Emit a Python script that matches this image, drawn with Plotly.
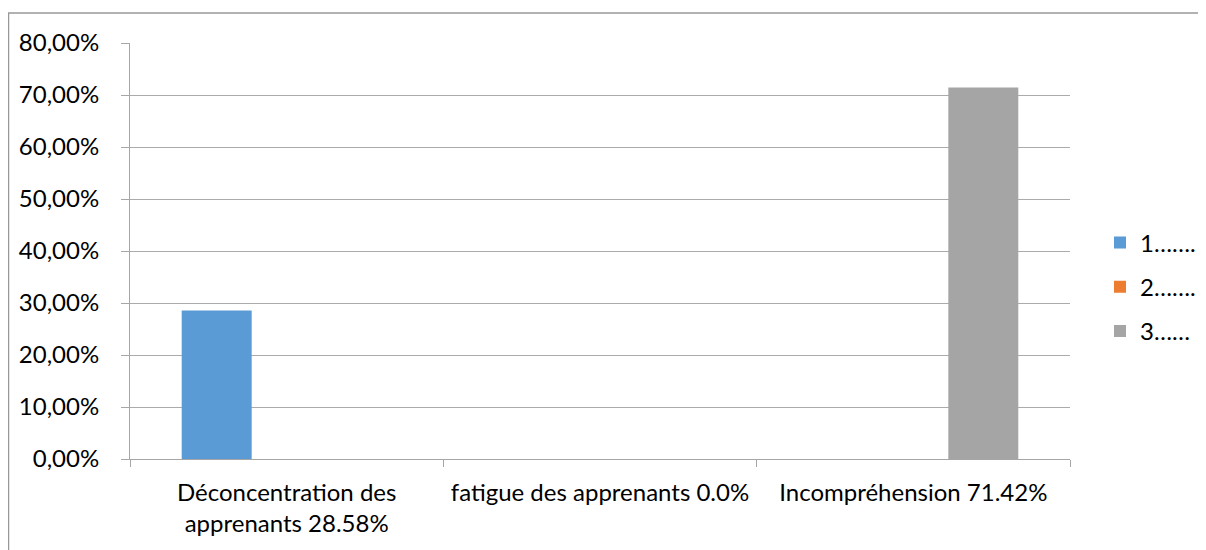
import plotly.graph_objects as go

categories = ["Déconcentration des<br>apprenants 28.58%", "fatigue des apprenants 0.0%", "Incompréhension 71.42%"]
series_names = ["1…….", "2…….", "3……"]
series1 = [0.2858, None, None]
series2 = [None, 0.0, None]
series3 = [None, None, 0.7142]
colors = ["#5b9bd5", "#ed7d31", "#a5a5a5"]
y_ticks = [0, 0.1, 0.2, 0.3, 0.4, 0.5, 0.6, 0.7, 0.8]

FONT = "Lato, Carlito, Calibri, sans-serif"
FS = 24

fig = go.Figure()
for i, (name, vals) in enumerate(zip(series_names, [series1, series2, series3])):
    fig.add_trace(go.Bar(x=categories, y=vals, name=name, marker_color=colors[i],
                         marker_line_width=0, legendgroup=str(i)))

# page has an 8px body margin; figure drawn at (8, 8)
OFF = 8
W, H = 1206 - OFF, 550 - OFF
L, T = 130 - OFF, 43 - OFF
R = W - (1070 - OFF)
B = H - (459 - OFF)
pw, ph = W - L - R, H - T - B

def px_x(p):
    return (p - OFF - L) / pw

def px_y(p):
    return (H - B - (p - OFF)) / ph

fig.update_layout(
    width=W, height=H,
    margin=dict(l=L, r=R, t=T, b=B, autoexpand=False),
    paper_bgcolor="white", plot_bgcolor="white",
    separators=", ",
    barmode="group", bargap=0.33, bargroupgap=0,
    font=dict(family=FONT, size=FS, color="#000000"),
    legend=dict(x=px_x(1100), y=px_y(287), xanchor="left", yanchor="middle",
                font=dict(size=FS), tracegroupgap=10, bgcolor="rgba(0,0,0,0)"),
    showlegend=True,
    xaxis=dict(showline=True, linecolor="#a6a6a6", linewidth=1,
               ticks="outside", tickson="boundaries", ticklen=7, tickcolor="#a6a6a6",
               showgrid=False, tickfont=dict(size=FS), ticklabelstandoff=12),
    yaxis=dict(range=[0, 0.8], tickvals=y_ticks, tickformat=".2%",
               showline=True, linecolor="#a6a6a6", linewidth=1,
               ticks="outside", ticklen=8, tickcolor="#a6a6a6",
               showgrid=True, gridcolor="#ababab", gridwidth=1,
               zeroline=False, tickfont=dict(size=FS), ticklabelstandoff=17),
    shapes=[dict(type="rect", xref="paper", yref="paper",
                 x0=px_x(8.5), x1=px_x(1230), y0=px_y(580), y1=px_y(13),
                 line=dict(color="#999999", width=1.5), fillcolor="rgba(0,0,0,0)", layer="below")],
)

fig.write_html("out.html")
